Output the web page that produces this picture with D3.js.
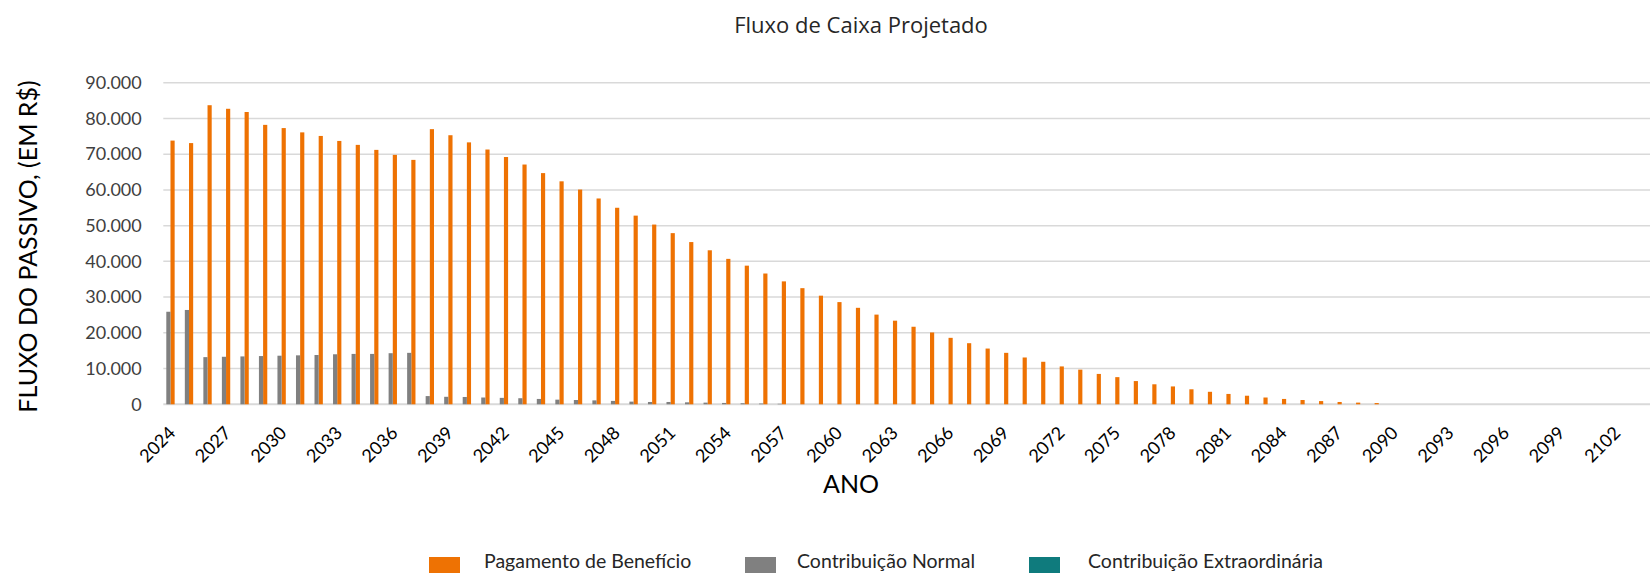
<!DOCTYPE html>
<html lang="pt-BR">
<head>
<meta charset="utf-8">
<title>Fluxo de Caixa Projetado</title>
<script src="https://cdn.jsdelivr.net/npm/d3@7"></script>
<style>
  html, body { margin: 0; padding: 0; background: #fff; }
  #grafico { width: 1650px; height: 573px; overflow: hidden; }
</style>
</head>
<body>
<div id="grafico"></div>
<script>
// Dados (valores em R$)
const anos = [
  2024, 2025, 2026, 2027, 2028, 2029, 2030, 2031, 2032, 2033,
  2034, 2035, 2036, 2037, 2038, 2039, 2040, 2041, 2042, 2043,
  2044, 2045, 2046, 2047, 2048, 2049, 2050, 2051, 2052, 2053,
  2054, 2055, 2056, 2057, 2058, 2059, 2060, 2061, 2062, 2063,
  2064, 2065, 2066, 2067, 2068, 2069, 2070, 2071, 2072, 2073,
  2074, 2075, 2076, 2077, 2078, 2079, 2080, 2081, 2082, 2083,
  2084, 2085, 2086, 2087, 2088, 2089, 2090, 2091, 2092, 2093,
  2094, 2095, 2096, 2097, 2098, 2099, 2100, 2101, 2102, 2103
];

const pagamentoBeneficio = [
  73800, 73100, 83700, 82700, 81800, 78200, 77300, 76100, 75100, 73700,
  72600, 71200, 69800, 68400, 77000, 75300, 73300, 71300, 69200, 67100,
  64700, 62400, 60100, 57600, 55000, 52800, 50300, 47900, 45400, 43100,
  40700, 38800, 36600, 34400, 32500, 30400, 28600, 27000, 25100, 23400,
  21700, 20100, 18600, 17100, 15600, 14400, 13100, 11900, 10600, 9700,
  8500, 7600, 6500, 5600, 5000, 4200, 3500, 2900, 2400, 1900,
  1500, 1200, 900, 650, 470, 350, 0, 0, 0, 0,
  0, 0, 0, 0, 0, 0, 0, 0, 0, 0
];

const contribuicaoNormal = [
  25900, 26400, 13200, 13300, 13400, 13500, 13600, 13700, 13800, 14000,
  14100, 14100, 14300, 14400, 2300, 2100, 2050, 1900, 1800, 1700,
  1500, 1300, 1200, 1100, 950, 750, 650, 650, 550, 470,
  380, 300, 220, 150, 0, 0, 0, 0, 0, 0,
  0, 0, 0, 0, 0, 0, 0, 0, 0, 0,
  0, 0, 0, 0, 0, 0, 0, 0, 0, 0,
  0, 0, 0, 0, 0, 0, 0, 0, 0, 0,
  0, 0, 0, 0, 0, 0, 0, 0, 0, 0
];

const contribuicaoExtraordinaria = [
  0, 0, 0, 0, 0, 0, 0, 0, 0, 0,
  0, 0, 0, 0, 0, 0, 0, 0, 0, 0,
  0, 0, 0, 0, 0, 0, 0, 0, 0, 0,
  0, 0, 0, 0, 0, 0, 0, 0, 0, 0,
  0, 0, 0, 0, 0, 0, 0, 0, 0, 0,
  0, 0, 0, 0, 0, 0, 0, 0, 0, 0,
  0, 0, 0, 0, 0, 0, 0, 0, 0, 0,
  0, 0, 0, 0, 0, 0, 0, 0, 0, 0
];

const anosRotulados = [
  2024, 2027, 2030, 2033, 2036, 2039, 2042, 2045, 2048, 2051, 2054, 2057, 2060, 2063,
  2066, 2069, 2072, 2075, 2078, 2081, 2084, 2087, 2090, 2093, 2096, 2099, 2102
];

const valoresEixoY = [0, 10000, 20000, 30000, 40000, 50000, 60000, 70000, 80000, 90000];

const series = [
  { nome: 'Pagamento de Benefício', valores: pagamentoBeneficio, cor: '#ee7203' },
  { nome: 'Contribuição Normal', valores: contribuicaoNormal, cor: '#808080' },
  { nome: 'Contribuição Extraordinária', valores: contribuicaoExtraordinaria, cor: '#0f7b7d' }
];

document.addEventListener('DOMContentLoaded', function() {
    const largura = 1650;
    const altura = 573;
    const area = { esquerda: 163.3, direita: 1645.3, topo: 82.7, base: 404.3 };
    const fonte = 'Lato, "Open Sans", sans-serif';

    const br = d3.formatLocale({ decimal: ',', thousands: '.', grouping: [3], currency: ['R$', ''] });
    const formato = br.format(',.0f');

    const svg = d3.select('#grafico')
                  .append('svg')
                  .attr('width', largura)
                  .attr('height', altura)
                  .style('font-family', fonte);

    // Escalas
    const escalaX = d3.scaleBand()
                      .domain(anos)
                      .range([area.esquerda, area.direita])
                      .padding(0);

    // ordem visual dentro do grupo: cinza, laranja, verde
    const ordemGrupo = ['Contribuição Normal', 'Pagamento de Benefício', 'Contribuição Extraordinária'];
    const escalaSerie = d3.scaleBand()
                          .domain(ordemGrupo)
                          .range([0, escalaX.bandwidth()])
                          .paddingInner(0)
                          .paddingOuter(0.72);

    const escalaY = d3.scaleLinear()
                      .domain([0, 90000])
                      .range([area.base, area.topo]);

    // Linhas de grade
    svg.append('g')
       .selectAll('line')
       .data(valoresEixoY)
       .enter()
       .append('line')
       .attr('x1', area.esquerda)
       .attr('x2', largura)
       .attr('y1', d => escalaY(d))
       .attr('y2', d => escalaY(d))
       .attr('stroke', '#d9d9d9')
       .attr('stroke-width', d => d === 0 ? 2 : 1.5);

    // Eixo Y (somente rótulos)
    const eixoY = svg.append('g')
       .attr('transform', `translate(${area.esquerda}, 0)`)
       .call(d3.axisLeft(escalaY).tickValues(valoresEixoY).tickFormat(formato).tickSize(0).tickPadding(21.6));
    eixoY.select('.domain').remove();
    eixoY.selectAll('text')
         .attr('font-family', fonte)
         .attr('font-size', 18)
         .attr('fill', '#404040');

    // Barras
    series.forEach(function(s) {
        svg.append('g')
           .selectAll('rect')
           .data(anos.map((a, i) => ({ ano: a, valor: s.valores[i] })))
           .enter()
           .append('rect')
           .attr('x', d => escalaX(d.ano) + escalaSerie(s.nome))
           .attr('y', d => escalaY(d.valor))
           .attr('width', escalaSerie.bandwidth())
           .attr('height', d => escalaY(0) - escalaY(d.valor))
           .attr('fill', s.cor);
    });

    // Rótulos do eixo X (rotacionados)
    svg.append('g')
       .selectAll('text')
       .data(anosRotulados)
       .enter()
       .append('text')
       .attr('transform', d => `translate(${escalaX(d) + escalaX.bandwidth() / 2 + 4}, 434) rotate(-45)`)
       .attr('text-anchor', 'end')
       .attr('font-size', 18)
       .attr('fill', '#000')
       .text(d => d);

    // Títulos
    svg.append('text')
       .attr('x', 861)
       .attr('y', 33)
       .attr('text-anchor', 'middle')
       .attr('font-family', '"Open Sans", sans-serif')
       .attr('font-size', 22)
       .attr('fill', '#262626')
       .text('Fluxo de Caixa Projetado');

    svg.append('text')
       .attr('transform', 'translate(37, 246.5) rotate(-90)')
       .attr('text-anchor', 'middle')
       .attr('font-size', 25)
       .attr('fill', '#000')
       .text('FLUXO DO PASSIVO, (EM R$)');

    svg.append('text')
       .attr('x', 851)
       .attr('y', 493)
       .attr('text-anchor', 'middle')
       .attr('font-size', 25)
       .attr('fill', '#000')
       .text('ANO');

    // Legenda
    const posLegenda = [429, 745, 1029];
    const legenda = svg.append('g')
       .selectAll('g')
       .data(series)
       .enter()
       .append('g')
       .attr('transform', (d, i) => `translate(${posLegenda[i]}, 557)`);

    legenda.append('rect')
           .attr('width', 31)
           .attr('height', 16)
           .attr('fill', d => d.cor);

    legenda.append('text')
           .attr('x', (d, i) => [55, 52, 59][i])
           .attr('y', 11)
           .attr('font-size', 19.5)
           .attr('fill', '#262626')
           .text(d => d.nome);
});
</script>
</body>
</html>
